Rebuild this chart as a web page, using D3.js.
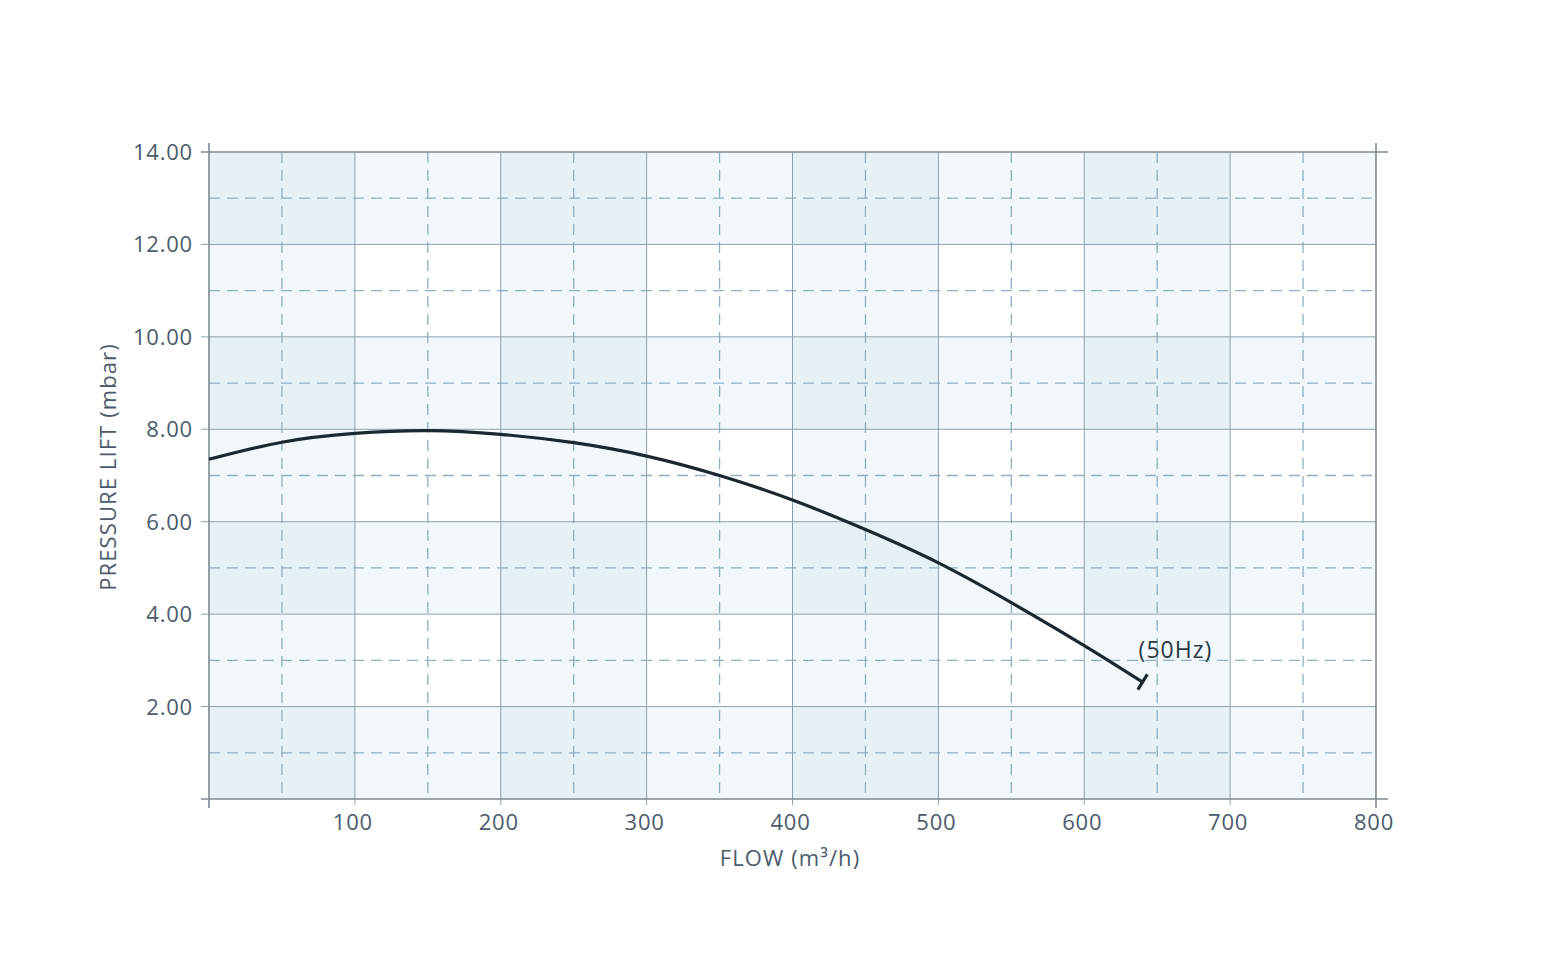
<!DOCTYPE html>
<html>
<head>
<meta charset="utf-8">
<script src="https://cdn.jsdelivr.net/npm/d3@7/dist/d3.min.js"></script>
<style>
  body { margin: 0; background: #fff; }
  text { font-family: "Open Sans", Lato, sans-serif; }
</style>
</head>
<body>
<div id="viz"></div>
<script>
// pump curve
var flow = [0, 50, 100, 150, 200, 250, 300, 350, 400, 450, 500, 550, 600, 640]
var lift = [7.35, 7.72, 7.91, 7.97, 7.89, 7.71, 7.42, 7.00, 6.47, 5.83, 5.11, 4.25, 3.32, 2.53]
var xTicks = [100, 200, 300, 400, 500, 600, 700, 800]
var yTicks = [2, 4, 6, 8, 10, 12, 14]
var xMinor = [50, 150, 250, 350, 450, 550, 650, 750]
var yMinor = [1, 3, 5, 7, 9, 11, 13]
var curveLabel = "(50Hz)"

var width = 1542, height = 968
var plotLeft = 209, plotRight = 1376, plotTop = 152, plotBottom = 799
var text_colour = "#4b5b6c"
var frame_colour = "#7e8990"
var grid_colour = "#8da1ac"
var dash_colour = "#8fb0c2"

var x = d3.scaleLinear().domain([0, 800]).range([plotLeft, plotRight])
var y = d3.scaleLinear().domain([0, 14]).range([plotBottom, plotTop])

var svg = d3.select("#viz")
  .append("svg")
  .attr("width", width)
  .attr("height", height)

// checker cells: column band shaded on even columns, row band on even rows
var cols = d3.range(0, 800, 100)
var rows = d3.range(0, 14, 2)
var cells = []
cols.forEach(function(c, i) {
  rows.forEach(function(r, j) {
    cells.push({c: c, r: r, n: (i % 2 == 0 ? 1 : 0) + (j % 2 == 0 ? 1 : 0)})
  })
})
var shade = ["#ffffff", "#f1f7fa", "#e6f1f6"]
svg.append("g").selectAll("rect").data(cells).enter().append("rect")
  .attr("x", function(d) { return x(d.c) })
  .attr("y", function(d) { return y(d.r + 2) })
  .attr("width", function(d) { return x(d.c + 100) - x(d.c) })
  .attr("height", function(d) { return y(d.r) - y(d.r + 2) })
  .attr("fill", function(d) { return shade[d.n] })

// dashed minor grid
svg.append("g").selectAll("line").data(xMinor).enter().append("line")
  .attr("x1", function(d) { return x(d) }).attr("x2", function(d) { return x(d) })
  .attr("y1", plotTop).attr("y2", plotBottom)
  .attr("stroke", dash_colour).attr("stroke-width", 1.3)
  .attr("stroke-dasharray", "11,7")
svg.append("g").selectAll("line").data(yMinor).enter().append("line")
  .attr("y1", function(d) { return y(d) }).attr("y2", function(d) { return y(d) })
  .attr("x1", plotLeft).attr("x2", plotRight)
  .attr("stroke", dash_colour).attr("stroke-width", 1.3)
  .attr("stroke-dasharray", "11,7")

// solid major grid, with little ticks outside
svg.append("g").selectAll("line").data(xTicks.slice(0, -1)).enter().append("line")
  .attr("x1", function(d) { return x(d) }).attr("x2", function(d) { return x(d) })
  .attr("y1", plotTop).attr("y2", plotBottom + 6)
  .attr("stroke", grid_colour).attr("stroke-width", 1)
svg.append("g").selectAll("line").data(yTicks.slice(0, -1)).enter().append("line")
  .attr("y1", function(d) { return y(d) }).attr("y2", function(d) { return y(d) })
  .attr("x1", plotLeft - 8).attr("x2", plotRight)
  .attr("stroke", grid_colour).attr("stroke-width", 1)

// frame
var fr = svg.append("g").attr("stroke", frame_colour).attr("stroke-width", 1.6)
fr.append("line").attr("x1", plotLeft).attr("x2", plotLeft).attr("y1", plotTop - 9).attr("y2", plotBottom + 9)
fr.append("line").attr("x1", plotRight).attr("x2", plotRight).attr("y1", plotTop - 9).attr("y2", plotBottom + 9)
fr.append("line").attr("x1", plotLeft - 8).attr("x2", plotRight + 12).attr("y1", plotTop).attr("y2", plotTop)
fr.append("line").attr("x1", plotLeft - 8).attr("x2", plotRight + 12).attr("y1", plotBottom).attr("y2", plotBottom)

// tick labels
svg.append("g").selectAll("text").data(xTicks).enter().append("text")
  .attr("x", function(d) { return x(d) - 2 })
  .attr("y", plotBottom + 31)
  .attr("text-anchor", "middle")
  .attr("font-size", 22)
  .attr("letter-spacing", 0.8)
  .attr("fill", text_colour)
  .text(function(d) { return d })
svg.append("g").selectAll("text").data(yTicks).enter().append("text")
  .attr("x", plotLeft - 16)
  .attr("y", function(d) { return y(d) + 8 })
  .attr("text-anchor", "end")
  .attr("font-size", 22)
  .attr("letter-spacing", 0.8)
  .attr("fill", text_colour)
  .text(function(d) { return d.toFixed(2) })

// axis titles
svg.append("text")
  .attr("x", 790).attr("y", 866)
  .attr("text-anchor", "middle")
  .attr("font-size", 22)
  .attr("letter-spacing", 1.1)
  .attr("fill", text_colour)
  .text("FLOW (m³/h)")
svg.append("text")
  .attr("transform", "translate(116,467) rotate(-90)")
  .attr("text-anchor", "middle")
  .attr("font-size", 22)
  .attr("letter-spacing", 1.1)
  .attr("fill", text_colour)
  .text("PRESSURE LIFT (mbar)")

// the curve
var pts = flow.map(function(f, i) { return [f, lift[i]] })
var line = d3.line()
  .x(function(d) { return x(d[0]) })
  .y(function(d) { return y(d[1]) })
  .curve(d3.curveNatural)
svg.append("path")
  .attr("d", line(pts))
  .attr("fill", "none")
  .attr("stroke", "#1b2830")
  .attr("stroke-width", 3.2)

// end cap, perpendicular to last segment
var n = pts.length
var ex = x(pts[n-1][0]), ey = y(pts[n-1][1])
var dx = ex - x(pts[n-2][0]), dy = ey - y(pts[n-2][1])
var len = Math.sqrt(dx*dx + dy*dy)
var px = -dy / len * 9, py = dx / len * 9
svg.append("line")
  .attr("x1", ex + px).attr("y1", ey + py)
  .attr("x2", ex - px).attr("y2", ey - py)
  .attr("stroke", "#1b2830")
  .attr("stroke-width", 3.2)

svg.append("text")
  .attr("x", ex - 4).attr("y", ey - 24)
  .attr("font-size", 23)
  .attr("letter-spacing", 1)
  .attr("fill", "#2b3945")
  .text(curveLabel)
</script>
</body>
</html>
